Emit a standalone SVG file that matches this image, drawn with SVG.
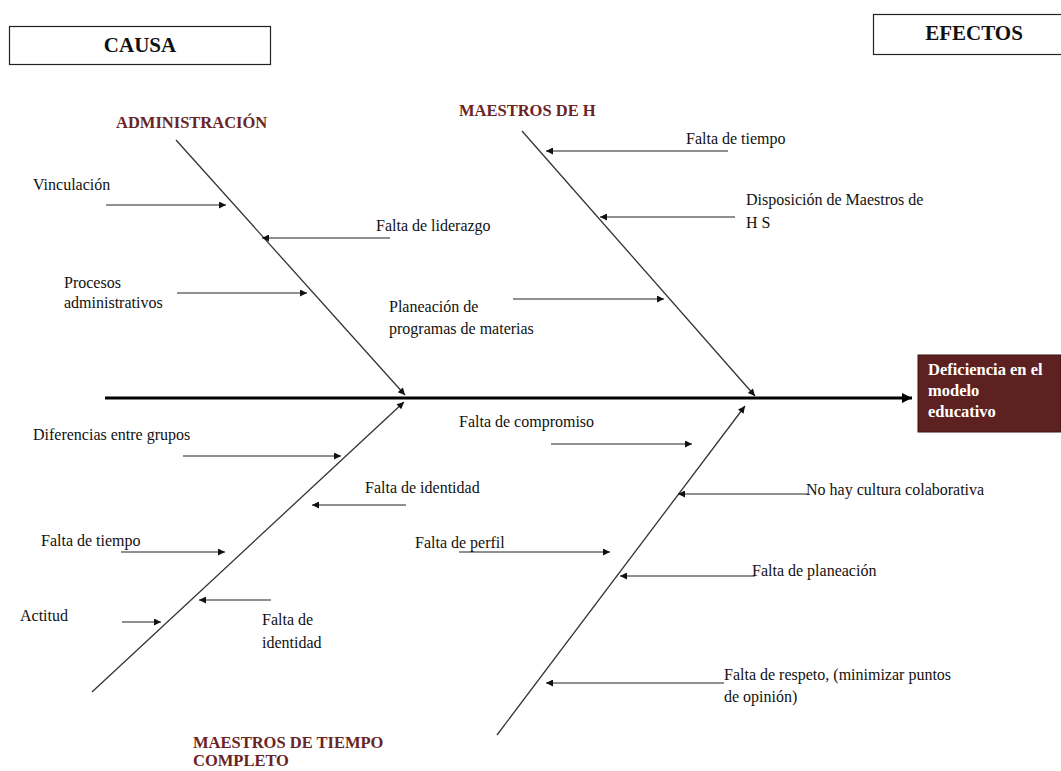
<svg xmlns="http://www.w3.org/2000/svg" width="1061" height="771" viewBox="0 0 1061 771">
<style>
.lbl{font-family:"Liberation Serif","Times New Roman",serif;font-size:16px;fill:#111}
.ttl{font-family:"Liberation Serif","Times New Roman",serif;font-size:16.5px;font-weight:bold;fill:#6a2424}
.hdr{font-family:"Liberation Serif","Times New Roman",serif;font-size:21px;font-weight:bold;fill:#111}
.eff{font-family:"Liberation Serif","Times New Roman",serif;font-size:16.5px;font-weight:bold;fill:#fff}
.sub{stroke:#222;stroke-width:1.2;fill:none;marker-end:url(#ah)}
.bone{stroke:#333;stroke-width:1.3;fill:none;marker-end:url(#ah)}
</style>
<defs>
<marker id="ah" viewBox="0 0 10 10" refX="10" refY="5" markerWidth="9" markerHeight="7" markerUnits="userSpaceOnUse" orient="auto">
<path d="M0,0 L10,5 L0,10 z" fill="#111"/>
</marker>
<marker id="ahBig" viewBox="0 0 10 10" refX="10" refY="5" markerWidth="12" markerHeight="10" markerUnits="userSpaceOnUse" orient="auto">
<path d="M0,0 L10,5 L0,10 z" fill="#000"/>
</marker>
</defs>
<rect width="1061" height="771" fill="#fff"/>

<g id="causa">
<rect x="9.5" y="26.5" width="261" height="38" fill="#fff" stroke="#222" stroke-width="1.2"/>
<text class="hdr" x="140" y="52" text-anchor="middle">CAUSA</text>
</g>
<g id="efectos">
<rect x="873.5" y="14.5" width="190" height="40" fill="#fff" stroke="#222" stroke-width="1.2"/>
<text class="hdr" x="974" y="40" text-anchor="middle">EFECTOS</text>
</g>
<g id="efecto-principal">
<rect x="918" y="355" width="143" height="77" fill="#5e2121" stroke="#3a1010" stroke-width="1"/>
<text class="eff" x="928" y="375">Deficiencia  en el</text>
<text class="eff" x="928" y="396">modelo</text>
<text class="eff" x="928" y="417">educativo</text>
</g>

<g id="connectors">
<line x1="105" y1="398" x2="912" y2="398" stroke="#000" stroke-width="3.2" marker-end="url(#ahBig)"/>
<line class="bone" x1="176" y1="140" x2="405" y2="395"/>
<line class="bone" x1="522" y1="131" x2="755" y2="396"/>
<line class="bone" x1="92" y1="692" x2="404" y2="402"/>
<line class="bone" x1="497" y1="735" x2="745" y2="406"/>

<line class="sub" x1="106" y1="205" x2="226" y2="205"/>
<line class="sub" x1="390" y1="238" x2="262" y2="238"/>
<line class="sub" x1="177" y1="293" x2="307" y2="293"/>
<line class="sub" x1="513" y1="299" x2="664" y2="299"/>
<line class="sub" x1="728" y1="151" x2="546" y2="151"/>
<line class="sub" x1="735" y1="217" x2="600" y2="217"/>

<line class="sub" x1="183" y1="456" x2="341" y2="456"/>
<line class="sub" x1="406" y1="505" x2="312" y2="505"/>
<line class="sub" x1="121" y1="552" x2="225" y2="552"/>
<line class="sub" x1="271" y1="600" x2="199" y2="600"/>
<line class="sub" x1="122" y1="622" x2="161" y2="622"/>

<line class="sub" x1="551" y1="444" x2="692" y2="444"/>
<line class="sub" x1="808" y1="494" x2="678" y2="494"/>
<line class="sub" x1="459" y1="552" x2="610" y2="552"/>
<line class="sub" x1="755" y1="576" x2="620" y2="576"/>
<line class="sub" x1="724" y1="683" x2="546" y2="683"/>
</g>

<g id="administracion">
<text class="ttl" x="116" y="128">ADMINISTRACIÓN</text>
</g>
<g id="maestros-h">
<text class="ttl" x="459" y="116">MAESTROS DE H</text>
</g>
<g id="maestros-tc">
<text class="ttl" x="193" y="748">MAESTROS DE TIEMPO</text>
<text class="ttl" x="193" y="766">COMPLETO</text>
</g>

<g id="causas-administracion">
<text class="lbl" x="33" y="190">Vinculación</text>
<text class="lbl" x="376" y="231">Falta de liderazgo</text>
<text class="lbl" x="64" y="288">Procesos</text>
<text class="lbl" x="64" y="308">administrativos</text>
</g>
<g id="causas-maestros-h">
<text class="lbl" x="389" y="312">Planeación  de</text>
<text class="lbl" x="389" y="334">programas  de materias</text>
<text class="lbl" x="686" y="144">Falta de tiempo</text>
<text class="lbl" x="746" y="205">Disposición  de Maestros de</text>
<text class="lbl" x="746" y="228">H S</text>
</g>
<g id="causas-maestros-tc">
<text class="lbl" x="33" y="440">Diferencias  entre  grupos</text>
<text class="lbl" x="365" y="493">Falta de identidad</text>
<text class="lbl" x="41" y="546">Falta de tiempo</text>
<text class="lbl" x="262" y="625">Falta de</text>
<text class="lbl" x="262" y="648">identidad</text>
<text class="lbl" x="20" y="621">Actitud</text>
</g>
<g id="causas-otras">
<text class="lbl" x="459" y="427">Falta de compromiso</text>
<text class="lbl" x="806" y="495">No hay cultura colaborativa</text>
<text class="lbl" x="415" y="548">Falta de perfil</text>
<text class="lbl" x="752" y="576">Falta de planeación</text>
<text class="lbl" x="724" y="680">Falta de respeto, (minimizar  puntos</text>
<text class="lbl" x="724" y="702">de opinión)</text>
</g>
</svg>
